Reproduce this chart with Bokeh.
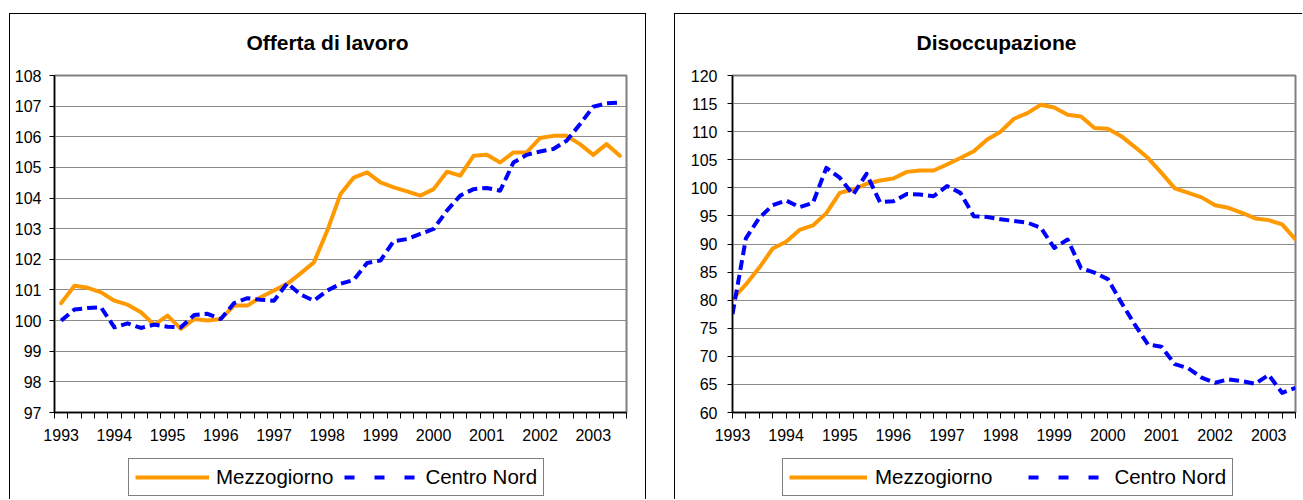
from bokeh.plotting import figure
from bokeh.models import FixedTicker, Legend, LegendItem, Range1d, ColumnDataSource, Label
from bokeh.layouts import row, column
from bokeh.embed import file_html
from bokeh.resources import INLINE

# ---------------- data ----------------
year_labels = ["1993", "1994", "1995", "1996", "1997", "1998",
               "1999", "2000", "2001", "2002", "2003"]
n_quarters = 43  # 1993 Q1 ... 2003 Q3

offerta_mezzogiorno = [100.57, 101.14, 101.07, 100.92, 100.65, 100.52, 100.27, 99.86, 100.16, 99.73,
                       100.05, 100.0, 100.05, 100.49, 100.49, 100.76, 100.98, 101.2, 101.54, 101.9,
                       102.93, 104.13, 104.67, 104.84, 104.51, 104.35, 104.22, 104.08, 104.29, 104.86,
                       104.73, 105.38, 105.41, 105.16, 105.49, 105.49, 105.96, 106.03, 106.03, 105.76,
                       105.41, 105.76, 105.38]
offerta_centro_nord = [100.0, 100.36, 100.41, 100.43, 99.78, 99.91, 99.76, 99.87, 99.8, 99.78,
                       100.18, 100.22, 100.05, 100.57, 100.73, 100.68, 100.65, 101.22, 100.85, 100.65,
                       100.98, 101.2, 101.33, 101.88, 101.96, 102.59, 102.66, 102.83, 102.99, 103.59,
                       104.08, 104.29, 104.33, 104.24, 105.16, 105.41, 105.52, 105.6, 105.87, 106.41,
                       106.98, 107.09, 107.12]
disocc_mezzogiorno = [80.2, 82.8, 85.8, 89.2, 90.4, 92.5, 93.3, 95.5, 99.1, 99.7,
                      100.7, 101.3, 101.66, 102.84, 103.08, 103.08, 104.15, 105.3, 106.5, 108.6,
                      110.0, 112.3, 113.3, 114.8, 114.3, 113.0, 112.7, 110.66, 110.5, 109.2,
                      107.3, 105.3, 102.67, 99.9, 99.1, 98.3, 96.9, 96.45, 95.56, 94.55,
                      94.25, 93.5, 90.8]
disocc_centro_nord = [77.5, 91.0, 94.67, 96.9, 97.75, 96.56, 97.3, 103.55, 101.8, 98.8,
                      102.5, 97.45, 97.6, 98.9, 98.8, 98.5, 100.3, 99.1, 94.96, 94.8,
                      94.4, 94.1, 93.8, 92.9, 89.3, 90.8, 85.7, 84.9, 83.75, 79.6,
                      75.7, 72.1, 71.7, 68.6, 67.9, 66.2, 65.3, 65.9, 65.6, 65.1,
                      66.7, 63.5, 64.4]

ORANGE = "#FF9900"
BLUE = "#0000FF"
FONT = "Liberation Sans"

TITLE_H = 51
MAIN_H = 387
LEGEND_H = 48


def blank_figure(width, height, min_left, min_right):
    fw = width - min_left - min_right
    f = figure(width=width, height=height, x_range=Range1d(0, fw), y_range=Range1d(0, height),
               output_backend="svg", toolbar_location=None,
               x_axis_location=None, y_axis_location=None,
               min_border_left=min_left, min_border_right=min_right,
               min_border_top=0, min_border_bottom=0)
    f.outline_line_color = None
    f.xgrid.grid_line_color = None
    f.ygrid.grid_line_color = None
    f.background_fill_color = "white"
    f.border_fill_color = "white"
    return f


def make_chart(title, mezz, cn, y_start, y_end, y_step, between, width, margin,
               min_left, min_right, shadow, title_x, legend_x, glyph_w, standoff,
               legend_spacing, y_standoff):
    # ---- title strip ----
    t = blank_figure(width, TITLE_H, min_left, min_right)
    t.add_layout(Label(x=title_x, y=23, text=title, text_align="center", text_baseline="middle",
                       text_font=FONT, text_font_style="bold", text_font_size="21px",
                       text_color="black"))

    # ---- main plot ----
    q = list(range(n_quarters))
    src = ColumnDataSource(dict(q=q, mezz=mezz, cn=cn))
    if between:
        xr = Range1d(-0.5, n_quarters - 0.5)
        minor = [k - 0.5 for k in range(n_quarters + 1)]
    else:
        xr = Range1d(0, n_quarters - 1)
        minor = list(range(n_quarters))
    p = figure(width=width, height=MAIN_H, x_range=xr, y_range=Range1d(y_start, y_end),
               output_backend="svg", toolbar_location=None,
               min_border_left=min_left, min_border_right=min_right,
               min_border_top=10, min_border_bottom=40)
    p.background_fill_color = "white"
    p.border_fill_color = "white"
    p.outline_line_color = "#808080"
    p.outline_line_width = 2

    major = list(range(0, n_quarters, 4))
    p.xaxis.ticker = FixedTicker(ticks=major, minor_ticks=minor)
    p.xaxis.major_label_overrides = {m: year_labels[i] for i, m in enumerate(major)}
    p.xaxis.major_tick_line_color = None
    p.xaxis.major_tick_out = 6
    p.xaxis.major_tick_in = 0
    p.xaxis.minor_tick_line_color = "black"
    p.xaxis.minor_tick_out = 6
    p.xaxis.minor_tick_in = 0
    p.xaxis.major_label_standoff = 10
    p.xaxis.axis_line_color = "black"
    p.xaxis.axis_line_width = 1.5
    p.xaxis.major_label_text_font = FONT
    p.xaxis.major_label_text_font_size = "16px"
    p.xaxis.major_label_text_color = "black"

    yt = list(range(y_start, y_end + 1, y_step))
    p.yaxis.ticker = FixedTicker(ticks=yt, minor_ticks=[])
    p.yaxis.major_tick_out = 5
    p.yaxis.major_tick_in = 0
    p.yaxis.major_tick_line_color = "black"
    p.yaxis.minor_tick_line_color = None
    p.yaxis.major_label_standoff = y_standoff
    p.yaxis.axis_line_color = "black"
    p.yaxis.axis_line_width = 1.5
    p.yaxis.major_label_text_font = FONT
    p.yaxis.major_label_text_font_size = "16px"
    p.yaxis.major_label_text_color = "black"

    p.xgrid.grid_line_color = None
    p.ygrid.ticker = FixedTicker(ticks=yt)
    p.ygrid.grid_line_color = "#8c8c8c"
    p.ygrid.grid_line_width = 1

    p.line("q", "mezz", source=src, line_color=ORANGE, line_width=4,
           line_join="round", line_cap="round")
    p.line("q", "cn", source=src, line_color=BLUE, line_width=4,
           line_dash="10 5", line_join="round", line_cap="butt")

    # ---- legend strip (legend keys only; no data drawn here) ----
    lg = blank_figure(width, LEGEND_H, min_left, min_right)
    nan = float("nan")
    k1 = lg.line(x=[nan], y=[nan], line_color=ORANGE, line_width=4, line_cap="butt")
    k2 = lg.line(x=[nan], y=[nan], line_color=BLUE, line_width=4, line_dash="10 20",
                 line_cap="butt")
    legend = Legend(items=[LegendItem(label="Mezzogiorno", renderers=[k1]),
                           LegendItem(label="Centro Nord", renderers=[k2])],
                    location=(legend_x, 4), orientation="horizontal",
                    border_line_color="black", border_line_width=1,
                    background_fill_color="white", background_fill_alpha=1,
                    label_text_font=FONT, label_text_font_size="20.5px",
                    label_text_color="black",
                    glyph_width=glyph_w, glyph_height=20, label_height=20,
                    label_standoff=standoff, spacing=legend_spacing, padding=6, margin=0)
    lg.add_layout(legend, "center")

    col = column(t, p, lg, spacing=0)
    col.margin = margin
    col.styles = {"box-shadow": shadow}
    return col


c1 = make_chart("Offerta di lavoro", offerta_mezzogiorno, offerta_centro_nord,
                97, 108, 1, True, 635, (14, 0, 0, 10),
                44, 19, "-1px -1px 0 0 #000, 1px -1px 0 0 #000",
                273, 74, 74, 7, 11, 8)
c2 = make_chart("Disoccupazione", disocc_mezzogiorno, disocc_centro_nord,
                60, 120, 5, False, 628, (14, 0, 0, 30),
                57, 8, "-1px -1px 0 0 #000",
                264, 50, 78, 8, 36, 10)

layout = row(c1, c2)
open("out.html", "w").write(file_html(layout, INLINE))
